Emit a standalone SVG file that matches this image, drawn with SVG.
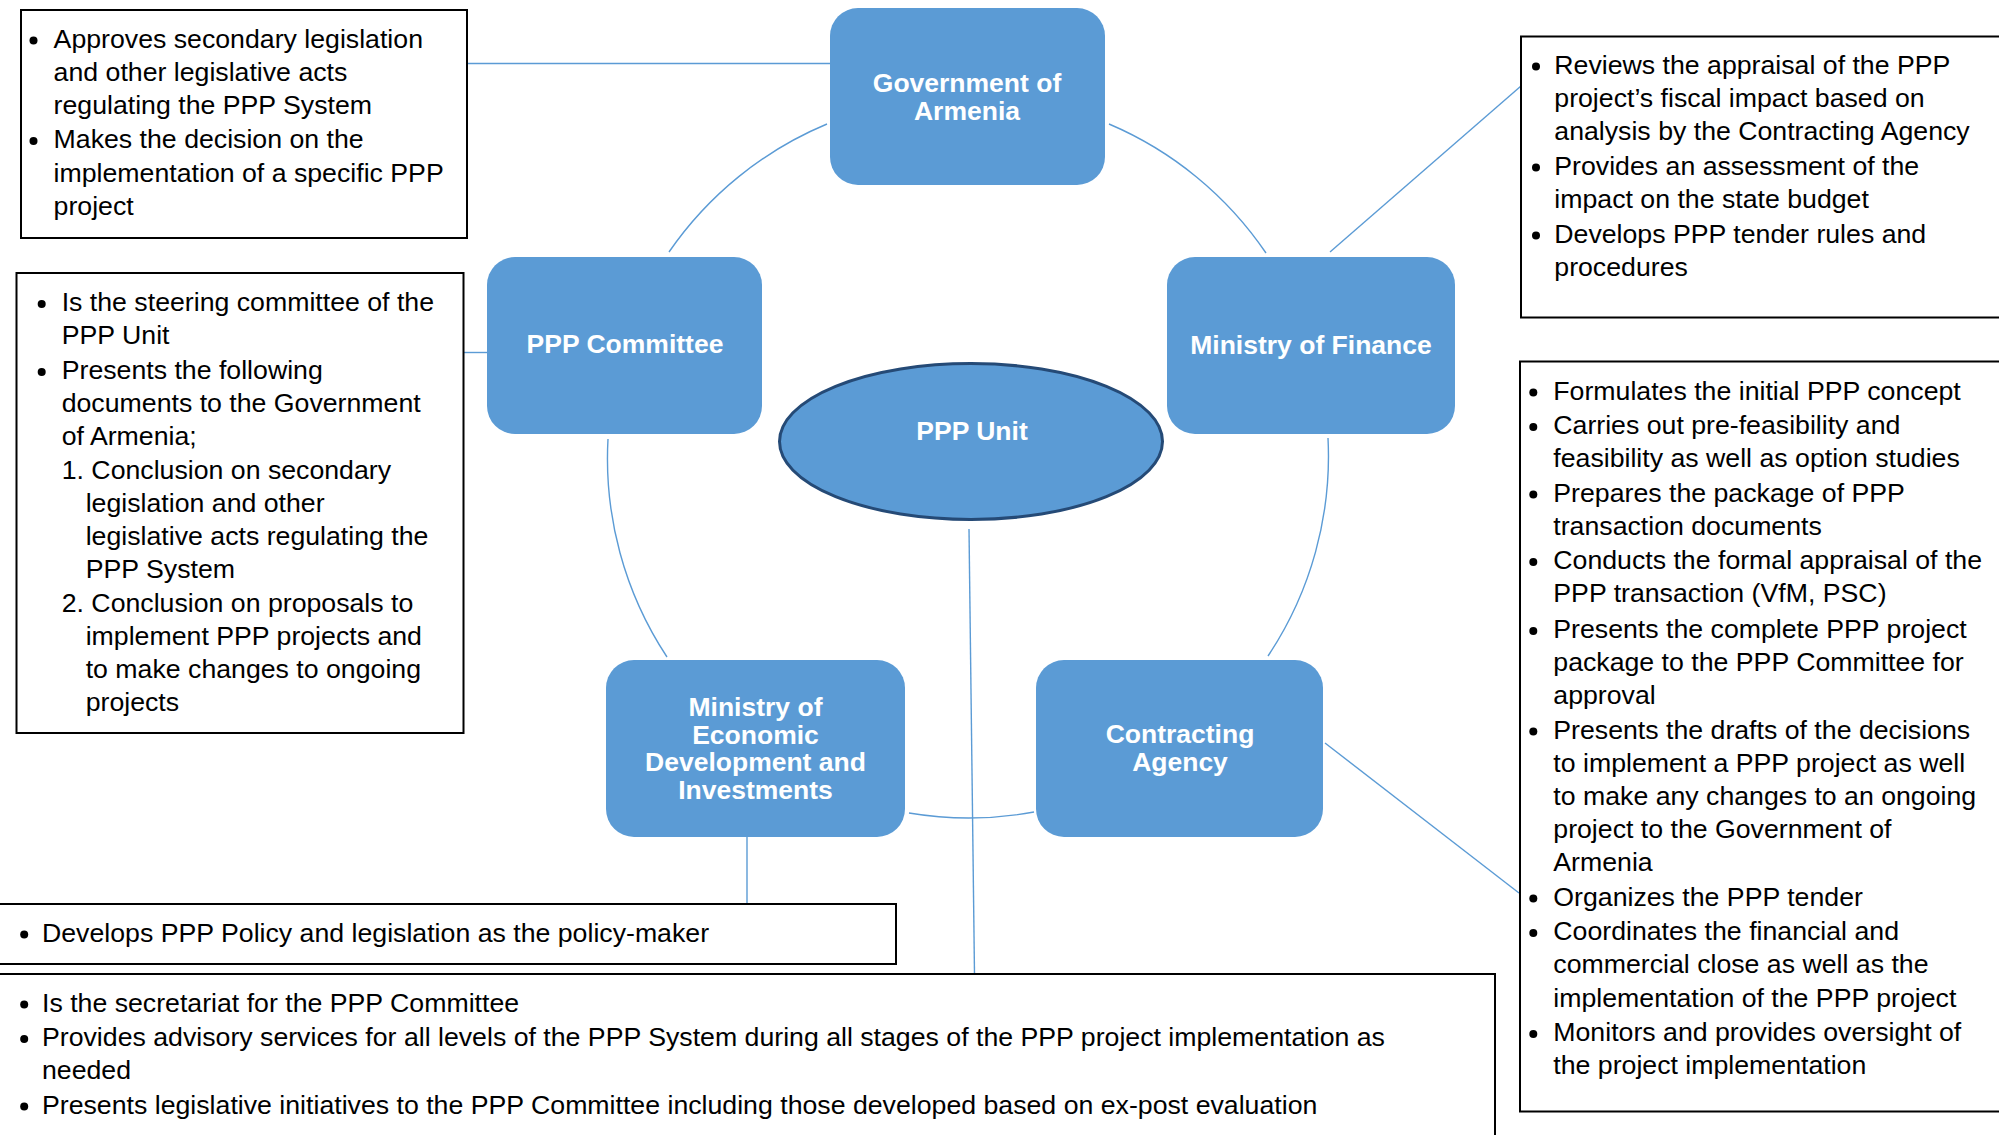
<svg xmlns="http://www.w3.org/2000/svg" width="1999" height="1135" viewBox="0 0 1999 1135">
<style>
.n{fill:#5B9BD5}
.nt{font-family:"Liberation Sans",Arial,sans-serif;font-weight:bold;font-size:26.5px;fill:#fff;text-anchor:middle}
.bx{fill:#fff;stroke:#000;stroke-width:2}
.t{font-family:"Liberation Sans",Arial,sans-serif;font-size:26.7px;fill:#000}
.b{fill:#000}
.c{fill:none;stroke:#5B9BD5;stroke-width:1.4}
</style>
<rect width="1999" height="1135" fill="#fff"/>
<g id="connectors">
<path class="c" d="M467,63.5 H830"/>
<path class="c" d="M464,352.5 H487"/>
<path class="c" d="M1330,252 L1521,86"/>
<path class="c" d="M1325,743 L1519,893"/>
<path class="c" d="M747,837 V904"/>
<path class="c" d="M969,529 L974.5,974"/>
<path class="c" d="M669,252 A360,360 0 0 1 827,124"/>
<path class="c" d="M1109,124 A360,360 0 0 1 1266,253"/>
<path class="c" d="M1328,438 A360,360 0 0 1 1268,656"/>
<path class="c" d="M1034,812 A360,360 0 0 1 909,813"/>
<path class="c" d="M667,657 A360,360 0 0 1 608,439"/>
</g>
<g id="gov">
<rect class="n" x="830" y="8" width="275" height="177" rx="28"/>
<text class="nt" x="967" y="92">Government of</text>
<text class="nt" x="967" y="120">Armenia</text>
</g>
<g id="committee">
<rect class="n" x="487" y="257" width="275" height="177" rx="28"/>
<text class="nt" x="625" y="353">PPP Committee</text>
</g>
<g id="mof">
<rect class="n" x="1167" y="257" width="288" height="177" rx="28"/>
<text class="nt" x="1311" y="354">Ministry of Finance</text>
</g>
<g id="pppunit">
<ellipse class="n" cx="971" cy="441.5" rx="191.5" ry="78" stroke="#254A76" stroke-width="3"/>
<text class="nt" x="972" y="440">PPP Unit</text>
</g>
<g id="moedi">
<rect class="n" x="606" y="660" width="299" height="177" rx="28"/>
<text class="nt" x="755.5" y="716">Ministry of</text>
<text class="nt" x="755.5" y="743.5">Economic</text>
<text class="nt" x="755.5" y="771">Development and</text>
<text class="nt" x="755.5" y="798.5">Investments</text>
</g>
<g id="agency">
<rect class="n" x="1036" y="660" width="287" height="177" rx="28"/>
<text class="nt" x="1180" y="743">Contracting</text>
<text class="nt" x="1180" y="771">Agency</text>
</g>
<g id="box-gov">
<rect class="bx" x="21" y="10" width="446" height="228"/>
<circle class="b" cx="33.5" cy="40.5" r="4"/>
<circle class="b" cx="33.5" cy="141" r="4"/>
<text class="t" x="53.6" y="47.5">Approves secondary legislation</text>
<text class="t" x="53.6" y="81">and other legislative acts</text>
<text class="t" x="53.6" y="114">regulating the PPP System</text>
<text class="t" x="53.6" y="148">Makes the decision on the</text>
<text class="t" x="53.6" y="181.5">implementation of a specific PPP</text>
<text class="t" x="53.6" y="215">project</text>
</g>
<g id="box-committee">
<rect class="bx" x="16.5" y="273" width="447" height="460"/>
<circle class="b" cx="41.7" cy="304" r="4"/>
<circle class="b" cx="41.7" cy="372" r="4"/>
<text class="t" x="61.7" y="311">Is the steering committee of the</text>
<text class="t" x="61.7" y="344">PPP Unit</text>
<text class="t" x="61.7" y="378.5">Presents the following</text>
<text class="t" x="61.7" y="412">documents to the Government</text>
<text class="t" x="61.7" y="445">of Armenia;</text>
<text class="t" x="61.7" y="478.5">1. Conclusion on secondary</text>
<text class="t" x="85.7" y="511.5">legislation and other</text>
<text class="t" x="85.7" y="545">legislative acts regulating the</text>
<text class="t" x="85.7" y="578">PPP System</text>
<text class="t" x="61.7" y="611.5">2. Conclusion on proposals to</text>
<text class="t" x="85.7" y="644.5">implement PPP projects and</text>
<text class="t" x="85.7" y="678">to make changes to ongoing</text>
<text class="t" x="85.7" y="710.5">projects</text>
</g>
<g id="box-mof">
<rect class="bx" x="1521" y="36.5" width="500" height="281"/>
<circle class="b" cx="1536" cy="66.5" r="4"/>
<circle class="b" cx="1536" cy="167.5" r="4"/>
<circle class="b" cx="1536" cy="235.5" r="4"/>
<text class="t" x="1554.3" y="73.5">Reviews the appraisal of the PPP</text>
<text class="t" x="1554.3" y="106.5">project’s fiscal impact based on</text>
<text class="t" x="1554.3" y="139.5">analysis by the Contracting Agency</text>
<text class="t" x="1554.3" y="174.5">Provides an assessment of the</text>
<text class="t" x="1554.3" y="208">impact on the state budget</text>
<text class="t" x="1554.3" y="242.5">Develops PPP tender rules and</text>
<text class="t" x="1554.3" y="275.5">procedures</text>
</g>
<g id="box-agency">
<rect class="bx" x="1520" y="361.5" width="500" height="750"/>
<circle class="b" cx="1533.3" cy="392.5" r="4"/>
<circle class="b" cx="1533.3" cy="427" r="4"/>
<circle class="b" cx="1533.3" cy="494.5" r="4"/>
<circle class="b" cx="1533.3" cy="562" r="4"/>
<circle class="b" cx="1533.3" cy="631" r="4"/>
<circle class="b" cx="1533.3" cy="731.5" r="4"/>
<circle class="b" cx="1533.3" cy="898.5" r="4"/>
<circle class="b" cx="1533.3" cy="933" r="4"/>
<circle class="b" cx="1533.3" cy="1034" r="4"/>
<text class="t" x="1553.3" y="399.5">Formulates the initial PPP concept</text>
<text class="t" x="1553.3" y="434">Carries out pre-feasibility and</text>
<text class="t" x="1553.3" y="467">feasibility as well as option studies</text>
<text class="t" x="1553.3" y="501.5">Prepares the package of PPP</text>
<text class="t" x="1553.3" y="534.5">transaction documents</text>
<text class="t" x="1553.3" y="569">Conducts the formal appraisal of the</text>
<text class="t" x="1553.3" y="602.3">PPP transaction (VfM, PSC)</text>
<text class="t" x="1553.3" y="638">Presents the complete PPP project</text>
<text class="t" x="1553.3" y="671">package to the PPP Committee for</text>
<text class="t" x="1553.3" y="704.3">approval</text>
<text class="t" x="1553.3" y="738.5">Presents the drafts of the decisions</text>
<text class="t" x="1553.3" y="772">to implement a PPP project as well</text>
<text class="t" x="1553.3" y="805">to make any changes to an ongoing</text>
<text class="t" x="1553.3" y="838">project to the Government of</text>
<text class="t" x="1553.3" y="871">Armenia</text>
<text class="t" x="1553.3" y="905.5">Organizes the PPP tender</text>
<text class="t" x="1553.3" y="940">Coordinates the financial and</text>
<text class="t" x="1553.3" y="973">commercial close as well as the</text>
<text class="t" x="1553.3" y="1006.5">implementation of the PPP project</text>
<text class="t" x="1553.3" y="1041">Monitors and provides oversight of</text>
<text class="t" x="1553.3" y="1074">the project implementation</text>
</g>
<g id="box-moedi">
<rect class="bx" x="-5" y="904" width="901" height="60"/>
<circle class="b" cx="24.2" cy="934.5" r="4"/>
<text class="t" x="42" y="941.5">Develops PPP Policy and legislation as the policy-maker</text>
</g>
<g id="box-pppunit">
<rect class="bx" x="-5" y="974" width="1500" height="180"/>
<circle class="b" cx="24.2" cy="1004.5" r="4"/>
<circle class="b" cx="24.2" cy="1039" r="4"/>
<circle class="b" cx="24.2" cy="1106.5" r="4"/>
<text class="t" x="42" y="1011.5">Is the secretariat for the PPP Committee</text>
<text class="t" x="42" y="1046">Provides advisory services for all levels of the PPP System during all stages of the PPP project implementation as</text>
<text class="t" x="42" y="1079">needed</text>
<text class="t" x="42" y="1113.5">Presents legislative initiatives to the PPP Committee including those developed based on ex-post evaluation</text>
</g>
</svg>
